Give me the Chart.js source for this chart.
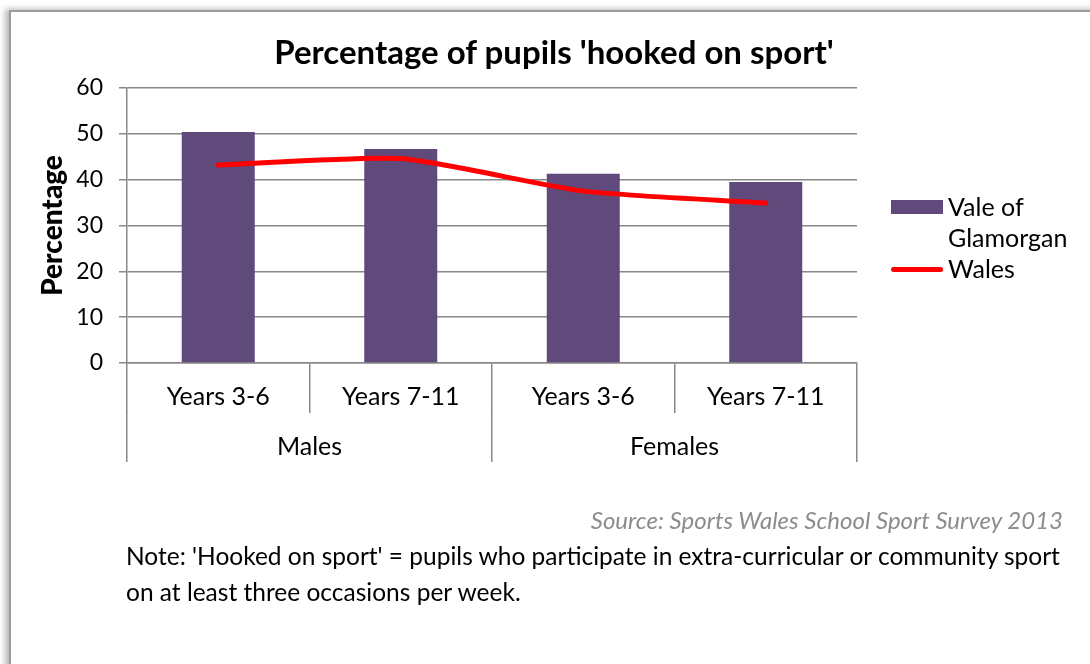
<!DOCTYPE html>
<html>
<head>
<meta charset="utf-8">
<script src="https://cdn.jsdelivr.net/npm/chart.js@4.4.1/dist/chart.umd.min.js"></script>
<style>
  html, body { margin: 0; padding: 0; background: #fff; }
  body { width: 1090px; height: 664px; position: relative; overflow: hidden; font-family: "Lato", "Liberation Sans", sans-serif; }
  .frame {
    position: absolute; left: 9px; top: 10px; width: 1110px; height: 700px;
    border-top: 2px solid #9c9c9c; border-left: 2px solid #9c9c9c;
    box-shadow: -4px -1px 6px rgba(0,0,0,0.28);
    background: #fff;
  }
  #chart { position: absolute; left: 0; top: 0; }
  .title {
    position: absolute; left: 0; width: 1108px; top: 31px; text-align: center;
    font-weight: 700; font-size: 33px; color: #000;
  }
  .legend { position: absolute; left: 891px; top: 191px; font-size: 25px; color: #000; line-height: 31px; }
  .legend-item { display: flex; align-items: flex-start; }
  .legend-swatch { width: 52px; flex: none; margin-right: 5px; }
  .legend-box { height: 14px; margin-top: 9px; }
  .legend-line { height: 5px; border-radius: 3px; margin-top: 14px; }
  .source {
    position: absolute; right: 27px; top: 505px; font-style: italic; font-size: 24px; color: #8c8c8c;
  }
  .note { position: absolute; left: 126px; top: 538px; width: 960px; font-size: 24.5px; line-height: 36px; color: #000; white-space: nowrap; }
</style>
</head>
<body>
<div class="frame"></div>
<canvas id="chart" width="1090" height="664"></canvas>
<div class="title">Percentage of pupils 'hooked on sport'</div>
<div class="legend" id="legend"></div>
<div class="source">Source: Sports Wales School Sport Survey 2013</div>
<div class="note">Note: 'Hooked on sport' = pupils who participate in extra-curricular or community sport<br>on at least three occasions per week.</div>

<script>
// categories and groups along the bottom
const ageBands = ["Years 3-6", "Years 7-11", "Years 3-6", "Years 7-11"];
const sexGroups = ["Males", "Females"];

// series
const seriesNames = ["Vale of Glamorgan", "Wales"];
const valeValues = [50.4, 46.7, 41.3, 39.5];
const walesValues = [43.2, 44.6, 37.5, 34.9];

const yTicks = [0, 10, 20, 30, 40, 50, 60];

const purple = "#604a7b";
const red = "#ff0000";
const gridGrey = "#888888";
const font = "Lato";

document.addEventListener("DOMContentLoaded", () => {
  const canvas = document.getElementById("chart");

  new Chart(canvas, {
    type: "bar",
    data: {
      labels: ageBands,
      datasets: [
        {
          type: "line",
          label: seriesNames[1],
          data: walesValues,
          borderColor: red,
          backgroundColor: red,
          borderWidth: 5,
          borderCapStyle: "round",
          pointRadius: 0,
          tension: 0.2,
          order: 0
        },
        {
          label: seriesNames[0],
          data: valeValues,
          backgroundColor: purple,
          categoryPercentage: 1,
          barPercentage: 0.4,
          order: 1
        }
      ]
    },
    options: {
      responsive: false,
      animation: false,
      devicePixelRatio: 1,
      layout: { padding: { left: 0, right: 233, top: 88, bottom: 202 } },
      plugins: {
        legend: { display: false },
        tooltip: { enabled: false }
      },
      scales: {
        y: {
          min: yTicks[0],
          max: yTicks[yTicks.length - 1],
          afterFit: (s) => { s.width = 127; },
          afterBuildTicks: (s) => { s.ticks = yTicks.map(v => ({ value: v })); },
          ticks: { color: "#000", padding: 16, font: { family: font, size: 23 } },
          grid: { color: gridGrey, lineWidth: 1.5, tickLength: 8 },
          border: { color: gridGrey, width: 1.5 },
          title: {
            display: true,
            text: "Percentage",
            color: "#000",
            padding: { top: 36, bottom: 0 },
            font: { family: font, size: 28, weight: "900" }
          }
        },
        x: {
          weight: 0,
          afterFit: (s) => { s.height = 49; },
          ticks: { color: "#000", padding: -31, font: { family: font, size: 25 } },
          grid: { offset: true, drawOnChartArea: false, tickLength: 50, color: gridGrey, lineWidth: 1.5 },
          border: { color: gridGrey, width: 1.5 }
        },
        x2: {
          type: "category",
          position: "bottom",
          weight: 1,
          labels: sexGroups,
          afterFit: (s) => { s.height = 50; },
          ticks: { color: "#000", padding: -30, font: { family: font, size: 25 } },
          grid: { offset: true, drawOnChartArea: false, tickLength: 50, color: gridGrey, lineWidth: 1.5 },
          border: { display: false }
        }
      }
    }
  });

  // legend on the right, built from the series names and colours
  const legend = document.getElementById("legend");
  const items = [
    { name: seriesNames[0], cls: "legend-box", color: purple, text: "Vale of<br>Glamorgan" },
    { name: seriesNames[1], cls: "legend-line", color: red, text: "Wales" }
  ];
  items.forEach((it) => {
    const row = document.createElement("div");
    row.className = "legend-item";
    row.innerHTML = `<div class="legend-swatch ${it.cls}" style="background:${it.color}"></div><div>${it.text}</div>`;
    legend.appendChild(row);
  });
});
</script>
</body>
</html>
